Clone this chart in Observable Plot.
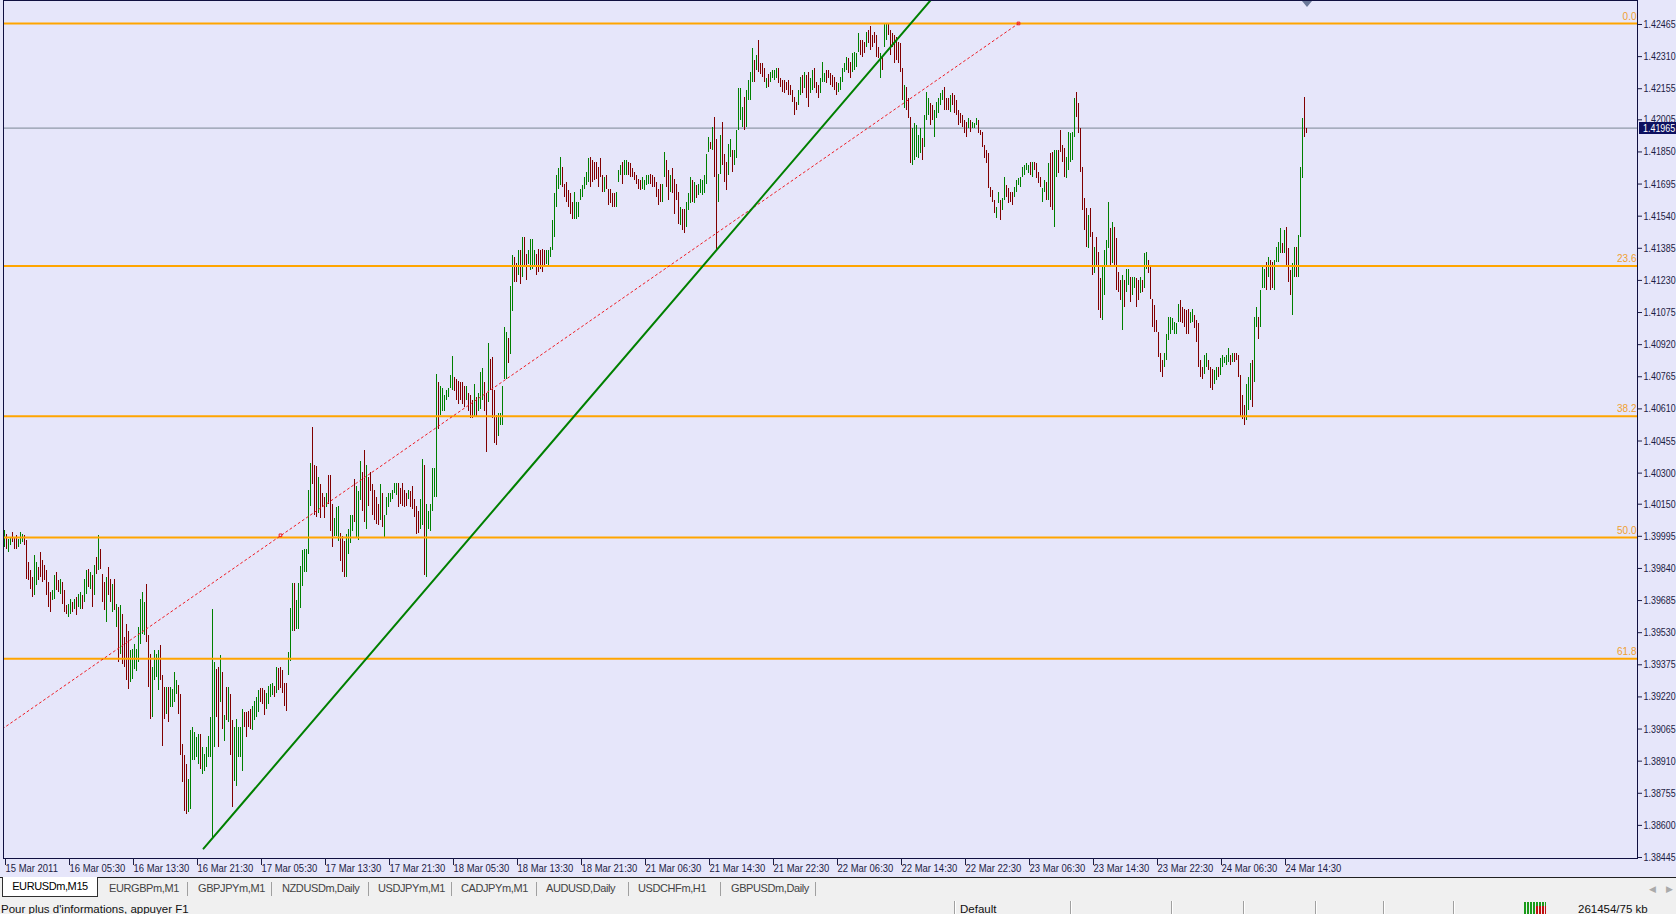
<!DOCTYPE html>
<html><head><meta charset="utf-8">
<script src="https://cdn.jsdelivr.net/npm/d3@7"></script>
<script src="https://cdn.jsdelivr.net/npm/@observablehq/plot@0.6"></script>
<style>
html,body{margin:0;padding:0;width:1676px;height:914px;overflow:hidden;background:#f0f0f0;}
#chart{position:absolute;left:0;top:0;width:1676px;height:878px;background:#E6E6FA;}
#chart svg{display:block;position:absolute;left:0;top:0;}
.ui{font-family:'Liberation Sans',Arial,sans-serif;}
#tabs{position:absolute;left:0;top:877px;width:1676px;height:22px;background:#f0f0f0;border-top:1px solid #202020;box-sizing:border-box;font-size:11px;letter-spacing:-0.4px;color:#444;}
#tabs .t{position:absolute;top:4px;white-space:nowrap;}
#tabs .sep{position:absolute;top:4px;width:1px;height:14px;background:#a0a0a0;}
#tabs .act{position:absolute;left:2px;top:-1px;width:96px;height:20px;background:#fff;border:1px solid #303030;border-top:none;box-sizing:border-box;color:#000;text-align:center;line-height:19px;}
#status{position:absolute;left:0;top:899px;width:1676px;height:15px;background:#f0f0f0;font-size:11.5px;color:#111;}
#status .t{position:absolute;top:4px;white-space:nowrap;}
#status .sep{position:absolute;top:2px;width:1px;height:13px;background:#a0a0a0;border-right:1px solid #fff;}
</style></head><body>
<div id="chart"></div>
<div id="tabs" class="ui">
  <div class="act">EURUSDm,M15</div>
  <span class="t" style="left:109px">EURGBPm,M1</span><span class="sep" style="left:187px"></span>
  <span class="t" style="left:198px">GBPJPYm,M1</span><span class="sep" style="left:271px"></span>
  <span class="t" style="left:282px">NZDUSDm,Daily</span><span class="sep" style="left:368px"></span>
  <span class="t" style="left:378px">USDJPYm,M1</span><span class="sep" style="left:451px"></span>
  <span class="t" style="left:461px">CADJPYm,M1</span><span class="sep" style="left:536px"></span>
  <span class="t" style="left:546px">AUDUSD,Daily</span><span class="sep" style="left:628px"></span>
  <span class="t" style="left:638px">USDCHFm,H1</span><span class="sep" style="left:720px"></span>
  <span class="t" style="left:731px">GBPUSDm,Daily</span><span class="sep" style="left:815px"></span>
  <span class="t" style="left:1649px;color:#aaa;font-size:9px;top:6px">&#9664;</span>
  <span class="t" style="left:1666px;color:#aaa;font-size:9px;top:6px">&#9654;</span>
</div>
<div id="status" class="ui">
  <span class="t" style="left:1px">Pour plus d'informations, appuyer F1</span>
  <span class="sep" style="left:954px"></span><span class="t" style="left:960px">Default</span>
  <span class="sep" style="left:1070px"></span>
  <span class="sep" style="left:1171px"></span>
  <span class="sep" style="left:1243px"></span>
  <span class="sep" style="left:1315px"></span>
  <span class="sep" style="left:1383px"></span>
  <span class="sep" style="left:1453px"></span>
  <span style="position:absolute;left:1524px;top:3px;width:22px;height:12px;background:repeating-linear-gradient(90deg,#1a9a1a 0 2px,transparent 2px 3px);"></span>
  <span style="position:absolute;left:1536px;top:7px;width:10px;height:8px;background:repeating-linear-gradient(90deg,#c01010 0 2px,transparent 2px 3px);"></span>
  <span class="t" style="left:1578px">261454/75 kb</span>
</div>
<script>
// EURUSD M15 bars (index 0 = 15 Mar 2011 21:30)
const high = [
1.40022,1.40005,1.39981,1.39989,1.40014,1.39989,1.39997,1.39981,1.40014,1.40005,
1.39997,1.39973,1.39869,1.39828,1.39796,1.39901,1.39869,1.39844,1.39917,1.39877,
1.39852,1.39828,1.39772,1.39724,1.39732,1.39804,1.39820,1.39780,1.39788,1.39772,
1.39732,1.39659,1.39667,1.39691,1.39675,1.39691,1.39699,1.39716,1.39724,1.39708,
1.39788,1.39828,1.39836,1.39820,1.39804,1.39852,1.39893,1.39997,1.39933,1.39812,
1.39772,1.39796,1.39844,1.39788,1.39764,1.39788,1.39667,1.39651,1.39659,1.39619,
1.39506,1.39571,1.39538,1.39442,1.39450,1.39474,1.39450,1.39555,1.39691,1.39724,
1.39675,1.39764,1.39514,1.39426,1.39361,1.39442,1.39426,1.39442,1.39466,1.39321,
1.39265,1.39265,1.39265,1.39265,1.39257,1.39337,1.39297,1.39273,1.39233,1.38991,
1.38935,1.38895,1.38822,1.39056,1.39072,1.39047,1.39023,1.39039,1.39039,1.38975,
1.38943,1.38975,1.39031,1.39120,1.39643,1.39386,1.39353,1.39361,1.39418,1.39337,
1.39128,1.39265,1.39265,1.39233,1.39104,1.39072,1.39112,1.39072,1.39072,1.39160,
1.39144,1.39144,1.39152,1.39160,1.39176,1.39200,1.39217,1.39249,1.39260,1.39260,
1.39252,1.39235,1.39269,1.39278,1.39286,1.39269,1.39364,1.39355,1.39364,1.39347,
1.39286,1.39286,1.39433,1.39649,1.39769,1.39769,1.39683,1.39769,1.39847,1.39925,
1.39933,1.39933,1.40218,1.40347,1.40520,1.40339,1.40330,1.40278,1.40244,1.40201,
1.40183,1.40201,1.40287,1.40287,1.40149,1.40080,1.40132,1.40140,1.40011,1.39993,
1.39968,1.40002,1.40028,1.40097,1.40097,1.40269,1.40235,1.40209,1.40356,1.40304,
1.40408,1.40339,1.40278,1.40304,1.40244,1.40218,1.40183,1.40149,1.40244,1.40201,
1.40097,1.40183,1.40201,1.40201,1.40218,1.40252,1.40252,1.40252,1.40227,1.40252,
1.40218,1.40201,1.40218,1.40209,1.40235,1.40175,1.40140,1.40114,1.40175,1.40364,
1.40339,1.40149,1.40114,1.40149,1.40321,1.40321,1.40778,1.40735,1.40718,1.40709,
1.40675,1.40701,1.40709,1.40770,1.40865,1.40761,1.40753,1.40744,1.40735,1.40735,
1.40718,1.40718,1.40684,1.40675,1.40649,1.40727,1.40666,1.40684,1.40787,1.40804,
1.40735,1.40684,1.40925,1.40847,1.40856,1.40701,1.40580,1.40589,1.40589,1.40718,
1.41003,1.40977,1.40951,1.41201,1.41348,1.41339,1.41313,1.41373,1.41373,1.41437,
1.41437,1.41357,1.41373,1.41429,1.41429,1.41373,1.41357,1.41381,1.41373,1.41381,
1.41373,1.41373,1.41373,1.41390,1.41518,1.41647,1.41735,1.41768,1.41824,1.41776,
1.41695,1.41703,1.41663,1.41647,1.41607,1.41655,1.41607,1.41607,1.41671,1.41687,
1.41727,1.41751,1.41816,1.41824,1.41808,1.41800,1.41800,1.41776,1.41816,1.41735,
1.41727,1.41735,1.41671,1.41671,1.41647,1.41647,1.41655,1.41759,1.41784,1.41800,
1.41808,1.41808,1.41800,1.41792,1.41768,1.41751,1.41735,1.41719,1.41711,1.41727,
1.41711,1.41735,1.41735,1.41743,1.41735,1.41727,1.41703,1.41671,1.41695,1.41695,
1.41848,1.41808,1.41759,1.41735,1.41768,1.41719,1.41695,1.41655,1.41582,1.41574,
1.41574,1.41607,1.41647,1.41727,1.41711,1.41703,1.41687,1.41695,1.41719,1.41711,
1.41735,1.41840,1.41920,1.41896,1.41969,1.42017,1.41912,1.41743,1.41929,1.41993,
1.41840,1.41800,1.41888,1.41912,1.41856,1.41856,1.41953,1.42154,1.42154,1.42065,
1.42114,1.42146,1.42194,1.42234,1.42347,1.42291,1.42315,1.42387,1.42275,1.42275,
1.42251,1.42202,1.42226,1.42234,1.42242,1.42242,1.42251,1.42251,1.42202,1.42194,
1.42194,1.42186,1.42194,1.42170,1.42146,1.42114,1.42090,1.42146,1.42211,1.42219,
1.42235,1.42219,1.42235,1.42203,1.42243,1.42251,1.42187,1.42171,1.42203,1.42283,
1.42227,1.42243,1.42243,1.42227,1.42219,1.42211,1.42187,1.42179,1.42211,1.42251,
1.42275,1.42308,1.42300,1.42283,1.42324,1.42332,1.42324,1.42420,1.42388,1.42388,
1.42380,1.42428,1.42436,1.42453,1.42412,1.42428,1.42412,1.42356,1.42324,1.42308,
1.42469,1.42469,1.42469,1.42436,1.42420,1.42412,1.42404,1.42380,1.42372,1.42251,
1.42171,1.42163,1.42106,1.42018,1.41961,1.41986,1.41978,1.41929,1.41961,1.41913,
1.42026,1.42139,1.42106,1.42082,1.42074,1.42050,1.42090,1.42106,1.42131,1.42147,
1.42163,1.42106,1.42106,1.42122,1.42131,1.42122,1.42098,1.42050,1.42034,1.42026,
1.42002,1.41994,1.42010,1.42002,1.41994,1.41986,1.42010,1.42002,1.41953,1.41945,
1.41881,1.41857,1.41841,1.41680,1.41664,1.41615,1.41583,1.41656,1.41615,1.41623,
1.41728,1.41688,1.41672,1.41656,1.41656,1.41680,1.41712,1.41720,1.41728,1.41776,
1.41784,1.41792,1.41784,1.41800,1.41800,1.41800,1.41792,1.41752,1.41728,1.41672,
1.41712,1.41704,1.41792,1.41841,1.41849,1.41857,1.41857,1.41857,1.41954,1.41881,
1.41865,1.41825,1.41945,1.41937,1.41945,1.42106,1.42139,1.42082,1.41962,1.41776,
1.41623,1.41575,1.41543,1.41575,1.41462,1.41390,1.41438,1.41366,1.41237,1.41301,
1.41374,1.41422,1.41607,1.41479,1.41511,1.41487,1.41430,1.41269,1.41229,1.41253,
1.41229,1.41285,1.41285,1.41245,1.41245,1.41245,1.41237,1.41229,1.41245,1.41229,
1.41358,1.41366,1.41326,1.41293,1.41140,1.41108,1.41036,1.40980,1.40875,1.40843,
1.40875,1.40971,1.41052,1.41052,1.41044,1.41028,1.41020,1.41116,1.41132,1.41100,
1.41092,1.41084,1.41092,1.41076,1.41092,1.41060,1.41036,1.41020,1.40843,1.40810,
1.40867,1.40875,1.40843,1.40810,1.40802,1.40794,1.40810,1.40810,1.40851,1.40867,
1.40859,1.40867,1.40899,1.40867,1.40875,1.40875,1.40875,1.40867,1.40770,1.40674,
1.40625,1.40730,1.40762,1.40827,1.40843,1.41052,1.41100,1.41052,1.41181,1.41293,
1.41285,1.41318,1.41342,1.41326,1.41318,1.41326,1.41390,1.41414,1.41479,1.41406,
1.41471,1.41487,1.41382,1.41277,1.41310,1.41390,1.41390,1.41446,1.41776,1.42010,
1.42115,1.41962];
const low = [
1.39941,1.39933,1.39917,1.39949,1.39965,1.39933,1.39933,1.39941,1.39957,1.39965,
1.39949,1.39788,1.39780,1.39740,1.39699,1.39708,1.39756,1.39780,1.39796,1.39772,
1.39780,1.39708,1.39651,1.39627,1.39683,1.39691,1.39732,1.39724,1.39716,1.39667,
1.39627,1.39619,1.39603,1.39619,1.39627,1.39643,1.39611,1.39651,1.39643,1.39643,
1.39675,1.39716,1.39748,1.39740,1.39651,1.39708,1.39812,1.39828,1.39836,1.39675,
1.39635,1.39579,1.39708,1.39675,1.39627,1.39635,1.39555,1.39386,1.39426,1.39378,
1.39361,1.39297,1.39257,1.39289,1.39305,1.39353,1.39345,1.39386,1.39474,1.39522,
1.39514,1.39482,1.39265,1.39112,1.39120,1.39297,1.39313,1.39249,1.39297,1.38983,
1.39112,1.39136,1.39096,1.39168,1.39168,1.39192,1.39233,1.39136,1.38935,1.38806,
1.38669,1.38653,1.38661,1.38677,1.38911,1.38911,1.38927,1.38895,1.38871,1.38846,
1.38862,1.38879,1.38927,1.38927,1.38541,1.38975,1.39120,1.38975,1.39192,1.39064,
1.39007,1.39104,1.39096,1.38935,1.38685,1.38814,1.38790,1.38927,1.38927,1.38862,
1.39072,1.39023,1.39072,1.39064,1.39056,1.39104,1.39120,1.39144,1.39191,1.39183,
1.39131,1.39157,1.39183,1.39217,1.39226,1.39217,1.39235,1.39252,1.39260,1.39235,
1.39174,1.39148,1.39321,1.39390,1.39536,1.39536,1.39545,1.39545,1.39649,1.39752,
1.39821,1.39821,1.39907,1.40140,1.40244,1.40097,1.40088,1.40106,1.40080,1.40132,
1.40080,1.40132,1.40149,1.40019,1.39942,1.39993,1.39993,1.39968,1.39873,1.39821,
1.39795,1.39795,1.39907,1.39959,1.40019,1.40063,1.39985,1.39976,1.40166,1.40114,
1.40063,1.40028,1.40140,1.40209,1.40097,1.40071,1.40054,1.40045,1.40071,1.40037,
1.39985,1.40097,1.40132,1.40157,1.40175,1.40201,1.40192,1.40132,1.40149,1.40140,
1.40132,1.40140,1.40175,1.40132,1.40123,1.40088,1.40002,1.40011,1.40028,1.40045,
1.39804,1.39795,1.40028,1.40019,1.40114,1.40183,1.40183,1.40511,1.40580,1.40597,
1.40597,1.40649,1.40666,1.40709,1.40701,1.40692,1.40649,1.40632,1.40649,1.40632,
1.40615,1.40649,1.40597,1.40563,1.40563,1.40571,1.40571,1.40597,1.40606,1.40649,
1.40597,1.40399,1.40640,1.40701,1.40563,1.40442,1.40433,1.40477,1.40528,1.40528,
1.40753,1.40753,1.40830,1.40873,1.41080,1.41218,1.41218,1.41253,1.41212,1.41244,
1.41293,1.41228,1.41309,1.41277,1.41285,1.41293,1.41252,1.41268,1.41285,1.41268,
1.41293,1.41309,1.41301,1.41341,1.41373,1.41437,1.41582,1.41671,1.41687,1.41679,
1.41631,1.41607,1.41582,1.41550,1.41526,1.41526,1.41526,1.41534,1.41615,1.41631,
1.41671,1.41687,1.41703,1.41679,1.41703,1.41711,1.41719,1.41679,1.41727,1.41655,
1.41655,1.41671,1.41591,1.41599,1.41582,1.41582,1.41582,1.41703,1.41735,1.41695,
1.41735,1.41735,1.41735,1.41727,1.41727,1.41711,1.41695,1.41671,1.41663,1.41671,
1.41663,1.41687,1.41695,1.41695,1.41679,1.41679,1.41631,1.41591,1.41607,1.41607,
1.41727,1.41679,1.41615,1.41655,1.41647,1.41550,1.41615,1.41502,1.41494,1.41470,
1.41454,1.41486,1.41566,1.41599,1.41607,1.41599,1.41623,1.41639,1.41647,1.41639,
1.41647,1.41695,1.41848,1.41864,1.41856,1.41727,1.41373,1.41607,1.41743,1.41784,
1.41703,1.41663,1.41735,1.41824,1.41751,1.41784,1.41816,1.41953,1.42001,1.41969,
1.41953,1.41969,1.42098,1.42098,1.42186,1.42186,1.42242,1.42234,1.42226,1.42210,
1.42186,1.42154,1.42162,1.42186,1.42202,1.42194,1.42202,1.42178,1.42162,1.42138,
1.42130,1.42146,1.42122,1.42122,1.42090,1.42025,1.42049,1.42073,1.42122,1.42131,
1.42155,1.42106,1.42066,1.42131,1.42147,1.42155,1.42131,1.42106,1.42131,1.42187,
1.42187,1.42179,1.42203,1.42171,1.42163,1.42147,1.42122,1.42139,1.42147,1.42187,
1.42235,1.42243,1.42227,1.42203,1.42235,1.42243,1.42259,1.42332,1.42316,1.42308,
1.42324,1.42356,1.42372,1.42340,1.42356,1.42372,1.42308,1.42300,1.42203,1.42243,
1.42356,1.42388,1.42412,1.42316,1.42356,1.42275,1.42292,1.42275,1.42235,1.42098,
1.42058,1.42050,1.42010,1.41792,1.41784,1.41809,1.41825,1.41817,1.41841,1.41809,
1.41873,1.42002,1.42026,1.41978,1.42002,1.41921,1.42010,1.42034,1.42074,1.42098,
1.42050,1.42050,1.42050,1.42042,1.42074,1.42034,1.42026,1.41978,1.41986,1.41969,
1.41937,1.41921,1.41961,1.41945,1.41961,1.41961,1.41978,1.41937,1.41929,1.41873,
1.41817,1.41792,1.41672,1.41631,1.41607,1.41551,1.41527,1.41599,1.41519,1.41567,
1.41615,1.41631,1.41599,1.41607,1.41591,1.41631,1.41656,1.41688,1.41680,1.41728,
1.41736,1.41760,1.41744,1.41736,1.41728,1.41760,1.41720,1.41696,1.41680,1.41607,
1.41656,1.41615,1.41615,1.41583,1.41567,1.41486,1.41728,1.41744,1.41849,1.41801,
1.41728,1.41720,1.41760,1.41801,1.41809,1.41921,1.42018,1.41937,1.41752,1.41567,
1.41471,1.41390,1.41382,1.41438,1.41253,1.41261,1.41301,1.41084,1.41044,1.41036,
1.41157,1.41301,1.41382,1.41301,1.41310,1.41301,1.41181,1.41173,1.41132,1.40988,
1.41100,1.41173,1.41205,1.41124,1.41157,1.41189,1.41100,1.41132,1.41165,1.41173,
1.41189,1.41285,1.41261,1.41140,1.41004,1.40980,1.40980,1.40859,1.40786,1.40762,
1.40810,1.40843,1.40939,1.40971,1.40988,1.40971,1.40971,1.41028,1.41028,1.41020,
1.41004,1.40971,1.40971,1.41020,1.41028,1.40996,1.40931,1.40810,1.40762,1.40754,
1.40778,1.40810,1.40794,1.40706,1.40698,1.40730,1.40746,1.40762,1.40770,1.40810,
1.40827,1.40819,1.40835,1.40819,1.40835,1.40835,1.40843,1.40762,1.40569,1.40561,
1.40529,1.40553,1.40601,1.40649,1.40617,1.40738,1.41004,1.40947,1.41004,1.41189,
1.41189,1.41181,1.41245,1.41181,1.41189,1.41181,1.41318,1.41318,1.41358,1.41358,
1.41358,1.41301,1.41221,1.41157,1.41060,1.41245,1.41245,1.41245,1.41438,1.41720,
1.41921,1.41937];
// bar direction: u = close above open, d = close below open
const dir = ("uduuddduuu"+"ddddduuddd"+"dddduuddud"+"dduududuud"+"uududududd"+"duddududud"+"ddduuuuuuu"+"uddduuuudd"+"duduuuuddd"+"dduuuuuudu"+
"uuuuuuddud"+"ududduuuuu"+"dddduuuudd"+"duuuududdd"+"dduuuduuuu"+"uuuudddudd"+"duddduuudd"+"duuuuduuud"+"duddddddud"+"uuuuuuuddd"+
"dduddddduu"+"duuuuuuduu"+"uuuuuddddd"+"duddduduuu"+"ddudddduuu"+"uuduuddudu"+"dduuuudddd"+"duuuuuuuud"+"ddddduuuuu"+"uuuddddddd"+
"uddddduuud"+"uudddddddu"+"uuuddddddu"+"udduddddud"+"duuududuuu"+"uuududduud"+"dduuduuuuu"+"duuuududdd"+"duduuuuddd"+"ddddddduud"+
"udduuddduu"+"udddddduuu"+"uudduuuudd"+"duddddddud"+"uudddddddd"+"uddduuuuud"+"uuudduuuuu"+"dddudddddd"+"dduduuuddd"+"dddddduudu"+
"udddduuuuu"+"uuududdddu"+"ududduuddd"+"duuuuudddd"+"dduddudddu"+"uuududdddu"+"duuduuddud"+"uudddddddd"+"uuuuuuuudd"+"ddduuddddd"+
"uuddduuduu"+"uuududdddd"+"duuuduuduu"+"ududduuuud"+"uddduuduuu"+"dd").split("");

// time axis labels (every 32 bars)
const xTickBars = [0,32,64,96,128,160,192,224,256,288,320,352,384,416,448,480,512,544,576,608,640];
const xLabels = ["15 Mar 2011","16 Mar 05:30","16 Mar 13:30","16 Mar 21:30","17 Mar 05:30","17 Mar 13:30","17 Mar 21:30","18 Mar 05:30","18 Mar 13:30","18 Mar 21:30","21 Mar 06:30","21 Mar 14:30","21 Mar 22:30","22 Mar 06:30","22 Mar 14:30","22 Mar 22:30","23 Mar 06:30","23 Mar 14:30","23 Mar 22:30","24 Mar 06:30","24 Mar 14:30"];
// price axis labels
const yTicks = [1.38445,1.38600,1.38755,1.38910,1.39065,1.39220,1.39375,1.39530,1.39685,1.39840,1.39995,1.40150,1.40300,1.40455,1.40610,1.40765,1.40920,1.41075,1.41230,1.41385,1.41540,1.41695,1.41850,1.42005,1.42155,1.42310,1.42465];
// Fibonacci retracement levels
const fibLevel = ["0.0","23.6","38.2","50.0","61.8"];
const fibPrice = [1.42470,1.41299,1.40575,1.39989,1.39404];
const currentPrice = 1.41965;
// trend lines (bar index, price)
const greenLine = [{bar:99.5, price:1.38488},{bar:470, price:1.42660}];
const redAnchors = [{bar:138, price:1.40000},{bar:507, price:1.42470}];
const redRay = [{bar:-1, price:1.39066},{bar:507, price:1.42470}];

const bars = high.map((h, i) => ({i, high: h, low: low[i], dir: dir[i] === "d" ? "down" : "up"}));
const FONT = "'Liberation Sans',Arial,sans-serif";

const chart = Plot.plot({
  width: 1676, height: 878,
  marginLeft: 3, marginRight: 39, marginTop: 0, marginBottom: 20,
  style: {background: "transparent", color: "#1c1c44", fontFamily: FONT, fontSize: "11px", overflow: "visible"},
  x: {domain: [-0.5, 816.5], axis: null},
  y: {domain: [1.384402, 1.425808], axis: null},
  color: {domain: ["up", "down"], range: ["#008000", "#800000"]},
  marks: [
    Plot.ruleY([currentPrice], {stroke: "#7b8794", strokeWidth: 1}),
    Plot.ruleX(bars, {x: "i", y1: "low", y2: "high", stroke: "dir", strokeWidth: 1, shapeRendering: "crispEdges"}),
    Plot.ruleY(fibPrice, {stroke: "#FFA500", strokeWidth: 2}),
    Plot.text(fibLevel, {y: (d, i) => fibPrice[i], text: d => d, frameAnchor: "right", textAnchor: "end", dx: -1, dy: -7, fill: "#f0a030", fontSize: 10}),
    Plot.line(redRay, {x: "bar", y: "price", stroke: "#ee1c24", strokeDasharray: "2,3", strokeWidth: 1, clip: true}),
    Plot.dot(redAnchors, {x: "bar", y: "price", symbol: "square", r: 1.5, stroke: "#ee1c24", strokeWidth: 1}),
    Plot.line(greenLine, {x: "bar", y: "price", stroke: "#008000", strokeWidth: 2, clip: true}),
    Plot.frame({stroke: "#101040"}),
    Plot.axisY({ticks: yTicks, anchor: "right", tickFormat: d3.format(".5f"), tickSize: 4, tickPadding: 2, fontSize: 11}),
    Plot.axisX({ticks: xTickBars, anchor: "bottom", tickFormat: d => xLabels[xTickBars.indexOf(d)], tickSize: 7, tickPadding: -1, textAnchor: "start", dx: 1, fontSize: 11})
  ]
});
const host = document.getElementById("chart");
host.appendChild(chart);

// condense axis labels to the narrow terminal font width
chart.querySelectorAll("text").forEach(t => {
  const s = t.textContent;
  let f = 0;
  if (/^\d\.\d{5}$/.test(s)) f = 0.81;
  else if (/Mar/.test(s)) f = 0.86;
  if (f) {
    const w = t.getComputedTextLength();
    t.setAttribute("textLength", (w * f).toFixed(1));
    t.setAttribute("lengthAdjust", "spacingAndGlyphs");
  }
});

// current price box on the price scale
const yCur = chart.scale("y").apply(currentPrice);
const box = document.createElement("div");
box.className = "ui";
const inner = document.createElement("span");
inner.textContent = d3.format(".5f")(currentPrice);
Object.assign(inner.style, {display: "inline-block", transform: "scaleX(0.81)", transformOrigin: "0 0"});
box.appendChild(inner);
Object.assign(box.style, {position: "absolute", left: "1639px", top: (yCur - 6) + "px", width: "37px", height: "12px",
  background: "#0d1060", color: "#fff", fontSize: "11px", lineHeight: "12px", paddingLeft: "4px", boxSizing: "border-box", whiteSpace: "nowrap", overflow: "hidden"});
host.appendChild(box);
// chart shift marker at the top
const xShift = chart.scale("x").apply(bars.length - 1) + 1;
const tri = document.createElement("div");
Object.assign(tri.style, {position: "absolute", left: (xShift - 5) + "px", top: "1px", width: 0, height: 0,
  borderLeft: "5px solid transparent", borderRight: "5px solid transparent", borderTop: "6px solid #6a7898"});
host.appendChild(tri);
</script>
</body></html>
